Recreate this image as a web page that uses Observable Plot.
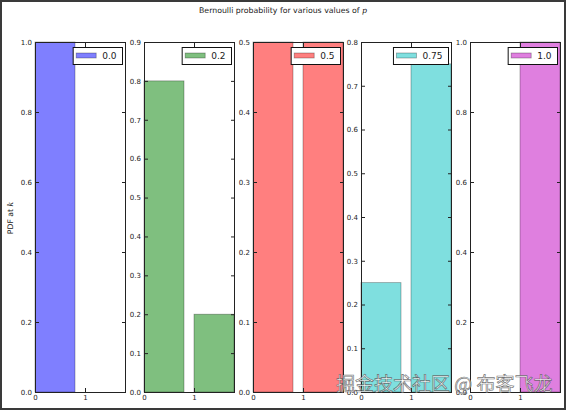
<!DOCTYPE html>
<html><head><meta charset="utf-8">
<script src="https://cdn.jsdelivr.net/npm/d3@7"></script>
<script src="https://cdn.jsdelivr.net/npm/@observablehq/plot@0.6"></script>
<style>
html,body{margin:0;padding:0;background:#fff;}
#fig{position:relative;width:566px;height:410px;overflow:hidden;background:#fff;font-family:"DejaVu Sans",sans-serif;color:#222;}
#border{position:absolute;left:0;top:0;width:566px;height:410px;box-sizing:border-box;border:2px solid #3a3a3a;pointer-events:none;z-index:5;}
.panel{position:absolute;}
#title{position:absolute;left:0;top:6px;width:566px;text-align:center;font-size:7.8px;line-height:9px;}
#ylabel{position:absolute;left:10px;top:218px;transform:translate(-50%,-50%) rotate(-90deg);font-size:7.7px;white-space:nowrap;}
#wm{position:absolute;left:336px;top:372px;font-family:"Noto Sans CJK SC",sans-serif;font-size:19px;line-height:22px;color:rgba(255,255,255,0.85);-webkit-text-stroke:0.7px rgba(70,70,70,0.75);white-space:nowrap;z-index:4;}
</style></head><body>
<div id="fig">
  <div id="title">Bernoulli probability for various values of <i style="font-family:'DejaVu Serif',serif">p</i></div>
  <div id="ylabel">PDF at <i style="font-family:'DejaVu Serif',serif">k</i></div>
  <div id="wm">掘金技术社区 @ 布客飞龙</div>
  <div id="border"></div>
</div>
<script>
// data
const pValues = [0.0, 0.2, 0.5, 0.75, 1.0];
const pLabels = ["0.0", "0.2", "0.5", "0.75", "1.0"];
const ks = [0, 1];
const pmfAt0 = [1.0, 0.8, 0.5, 0.25, 0.0];
const pmfAt1 = [0.0, 0.2, 0.5, 0.75, 1.0];
const yMax = [1.0, 0.9, 0.5, 0.8, 1.0];
const yTicks = [
  [0.0, 0.2, 0.4, 0.6, 0.8, 1.0],
  [0.0, 0.1, 0.2, 0.3, 0.4, 0.5, 0.6, 0.7, 0.8, 0.9],
  [0.0, 0.1, 0.2, 0.3, 0.4, 0.5],
  [0.0, 0.1, 0.2, 0.3, 0.4, 0.5, 0.6, 0.7, 0.8],
  [0.0, 0.2, 0.4, 0.6, 0.8, 1.0]
];
const xTicks = [0, 1];
const xMax = 1.8;
const barWidth = 0.8;
const colors = ["#0000ff", "#008000", "#ff0000", "#00bfbf", "#bf00bf"];

// layout
const ML = 26, MR = 4, MT = 6, MB = 16;
const frameW = 90, frameH = 350, frameTop = 42, firstLeft = 35, step = 108.75;
const fig = document.getElementById("fig");
const fmt = d3.format(".1f");

pValues.forEach((p, i) => {
  const data = ks.map((k, j) => ({k, value: j === 0 ? pmfAt0[i] : pmfAt1[i]}));
  const plot = Plot.plot({
    width: ML + frameW + MR,
    height: MT + frameH + MB,
    marginLeft: ML, marginRight: MR, marginTop: MT, marginBottom: MB,
    style: {fontFamily: "DejaVu Sans", fontSize: "7px", background: "transparent", overflow: "visible", color: "#222"},
    x: {domain: [0, xMax]},
    y: {domain: [0, yMax[i]]},
    marks: [
      Plot.rectY(data, {x1: d => d.k, x2: d => d.k + barWidth, y1: 0, y2: "value",
        fill: colors[i], fillOpacity: 0.5, stroke: "#000", strokeOpacity: 0.35, strokeWidth: 0.8}),
      Plot.frame({stroke: "#222", strokeWidth: 1}),
      Plot.axisY({ticks: yTicks[i], tickFormat: fmt, tickSize: -4, tickPadding: 7.5, label: null, stroke: "#222"}),
      Plot.axisY({anchor: "right", ticks: yTicks[i], tickFormat: () => "", tickSize: -4, label: null, stroke: "#222"}),
      Plot.axisX({ticks: xTicks, tickFormat: d3.format("d"), tickSize: -4, tickPadding: 7, label: null, stroke: "#222"}),
      Plot.axisX({anchor: "top", ticks: xTicks, tickFormat: () => "", tickSize: -4, label: null, stroke: "#222"})
    ]
  });
  const left = firstLeft + i * step;
  plot.classList.add("panel");
  plot.style.left = (left - ML) + "px";
  plot.style.top = (frameTop - MT) + "px";
  fig.insertBefore(plot, document.getElementById("wm"));

  // legend (matplotlib style, upper right)
  const svg = d3.select(plot);
  const g = svg.append("g");
  const frameRight = ML + frameW;
  const box = g.append("rect");
  const patch = g.append("rect");
  const txt = g.append("text").text(pLabels[i])
    .attr("font-family", "DejaVu Sans").attr("font-size", "9px").attr("fill", "#222")
    .attr("text-anchor", "start")
    .attr("dominant-baseline", "central");
  const tw = txt.node().getComputedTextLength();
  const boxW = 3.5 + 20 + 6 + tw + 5.5;
  const boxRight = frameRight - 3;
  const boxLeft = boxRight - boxW;
  const boxTop = MT + 5;
  box.attr("x", boxLeft + 0.5).attr("y", boxTop + 0.5).attr("width", boxW).attr("height", 17)
    .attr("fill", "#fff").attr("stroke", "#111").attr("stroke-width", 1);
  patch.attr("x", boxLeft + 3.5).attr("y", boxTop + 6).attr("width", 20).attr("height", 5)
    .attr("fill", colors[i]).attr("fill-opacity", 0.5).attr("stroke", "#000").attr("stroke-opacity", 0.35).attr("stroke-width", 0.8);
  txt.attr("x", boxLeft + 3.5 + 20 + 6).attr("y", boxTop + 9);
});
</script>
</body></html>
